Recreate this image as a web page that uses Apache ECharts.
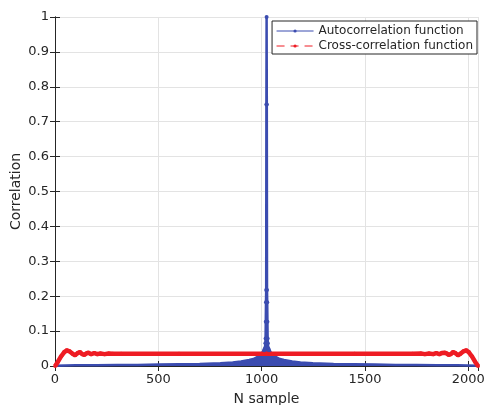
<!DOCTYPE html>
<html>
<head>
<meta charset="utf-8">
<script src="https://cdn.jsdelivr.net/npm/echarts@6/dist/echarts.min.js"></script>
<style>
  html, body { margin: 0; padding: 0; background: #fff; }
  #chart { width: 484px; height: 405px; }
</style>
</head>
<body>
<div id="chart"></div>
<script>
// values
var autoLag = [1, 100, 200, 300, 400, 500, 600, 700, 800, 860, 900, 940, 960, 980, 995, 1005, 1012, 1016, 1018, 1019, 1020, 1021, 1022, 1023, 1024,
  1025, 1026, 1027, 1028, 1029, 1030, 1032, 1036, 1043, 1053, 1068, 1088, 1108, 1148, 1188, 1248, 1348, 1448, 1548, 1648, 1748, 1848, 1948, 2047];
var autoVal = [0.001, 0.002, 0.002, 0.003, 0.003, 0.004, 0.005, 0.006, 0.008, 0.010, 0.013, 0.017, 0.020, 0.026, 0.033, 0.040, 0.045, 0.051, 0.065, 0.079, 0.127, 0.183, 0.218, 0.749, 1.0,
  0.749, 0.218, 0.183, 0.127, 0.079, 0.065, 0.051, 0.045, 0.040, 0.033, 0.026, 0.020, 0.017, 0.013, 0.010, 0.008, 0.006, 0.005, 0.004, 0.003, 0.003, 0.002, 0.002, 0.001];

var crossLag = [1, 15, 30, 45, 57, 70, 85, 97, 110, 121, 132, 142, 152, 162, 175, 190, 205, 220, 240, 260, 280, 320, 600, 1024, 1450, 1730,
  1770, 1790, 1810, 1830, 1845, 1860, 1872, 1885, 1895, 1905, 1915, 1926, 1937, 1950, 1962, 1977, 1990, 2002, 2017, 2032, 2047];
var crossVal = [0, 0.013, 0.028, 0.040, 0.045, 0.042, 0.035, 0.031, 0.037, 0.040, 0.034, 0.032, 0.036, 0.038, 0.034, 0.037, 0.034, 0.036, 0.034, 0.036, 0.035, 0.035, 0.035, 0.035, 0.035, 0.035,
  0.036, 0.034, 0.036, 0.034, 0.037, 0.034, 0.037, 0.038, 0.036, 0.032, 0.034, 0.040, 0.037, 0.031, 0.035, 0.042, 0.045, 0.040, 0.028, 0.013, 0];

var xTicks = [0, 500, 1000, 1500, 2000];

var blue = '#3b4cb0';
var red = '#ee1c24';
var ink = '#262626';
var font = 'DejaVu Sans';

function pairs(xs, ys) {
  return xs.map(function (x, i) { return [x, ys[i]]; });
}

var chart = echarts.init(document.getElementById('chart'));

var boxAxis = {
  axisLine: { show: true, lineStyle: { color: ink, width: 1 } },
  axisTick: { show: true, inside: true, length: 5, lineStyle: { color: ink } },
  axisLabel: { show: false },
  splitLine: { show: false }
};

chart.setOption({
  animation: false,
  backgroundColor: '#fff',
  grid: { left: 55, right: 6, top: 17, bottom: 39, outerBoundsMode: 'none', containLabel: false },
  legend: {
    orient: 'vertical',
    right: 7,
    top: 21,
    padding: [4, 4, 2, 4],
    itemGap: 3,
    itemWidth: 37,
    itemHeight: 4,
    backgroundColor: '#fff',
    borderColor: ink,
    borderWidth: 1,
    borderRadius: 0,
    textStyle: { fontFamily: font, fontSize: 12, color: ink },
    lineStyle: { width: 1 },
    data: [
      { name: 'Autocorrelation function', lineStyle: { width: 1, type: 'solid' } },
      { name: 'Cross-correlation function', lineStyle: { width: 1, type: [8, 6] } }
    ]
  },
  xAxis: [{
    type: 'value',
    min: 0,
    max: 2047,
    interval: 500,
    name: 'N sample',
    nameLocation: 'middle',
    nameGap: 26,
    nameMoveOverlap: false,
    nameTextStyle: { fontFamily: font, fontSize: 14, color: ink },
    axisLine: { show: true, lineStyle: { color: ink, width: 1 } },
    axisTick: { show: true, inside: true, length: 5, lineStyle: { color: ink } },
    axisLabel: {
      fontFamily: font, fontSize: 13, color: ink, margin: 7,
      showMaxLabel: false,
      formatter: function (v) { return xTicks.indexOf(v) >= 0 ? String(v) : ''; }
    },
    splitLine: { show: true, lineStyle: { color: '#e3e3e3', width: 1 } }
  }, Object.assign({
    type: 'value', position: 'top', min: 0, max: 2047, interval: 500
  }, boxAxis)],
  yAxis: [{
    type: 'value',
    min: 0,
    max: 1,
    interval: 0.1,
    name: 'Correlation',
    nameLocation: 'middle',
    nameGap: 32,
    nameMoveOverlap: false,
    nameTextStyle: { fontFamily: font, fontSize: 14, color: ink },
    axisLine: { show: true, lineStyle: { color: ink, width: 1 } },
    axisTick: { show: true, inside: true, length: 5, lineStyle: { color: ink } },
    axisLabel: { fontFamily: font, fontSize: 13, color: ink, margin: 6 },
    splitLine: { show: true, lineStyle: { color: '#e3e3e3', width: 1 } }
  }, Object.assign({
    type: 'value', position: 'right', min: 0, max: 1, interval: 0.1
  }, boxAxis)],
  series: [{
    name: 'Autocorrelation function',
    type: 'line',
    data: pairs(autoLag, autoVal),
    symbol: 'circle',
    symbolSize: function (v) { return v[1] > 0.04 ? 4 : 0; },
    showAllSymbol: true,
    color: blue,
    lineStyle: { color: blue, width: 2.5 },
    itemStyle: { color: blue },
    areaStyle: { color: blue, opacity: 1 }
  }, {
    name: 'Cross-correlation function',
    type: 'line',
    data: pairs(crossLag, crossVal),
    symbol: 'circle',
    symbolSize: 4,
    showAllSymbol: true,
    color: red,
    lineStyle: { color: red, width: 4.5 },
    itemStyle: { color: red }
  }]
});
</script>
</body>
</html>
